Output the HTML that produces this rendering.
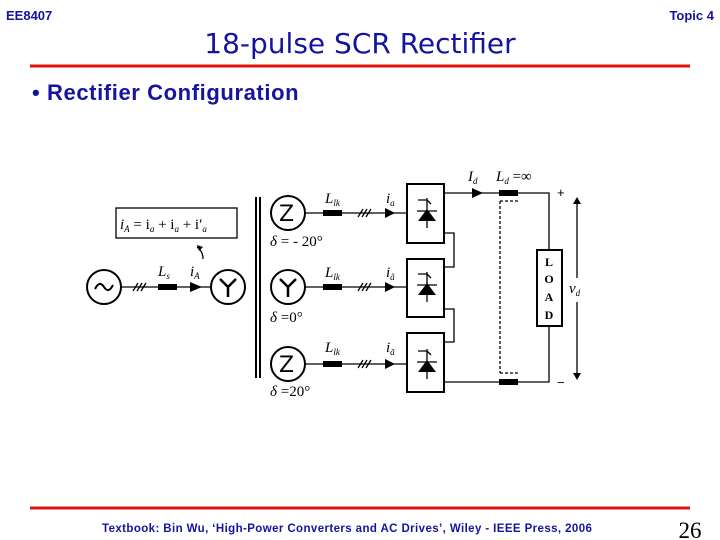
<!DOCTYPE html>
<html><head><meta charset="utf-8"><style>
html,body{margin:0;padding:0;background:#fff;width:720px;height:540px;overflow:hidden}
</style></head><body>
<svg width="720" height="540" viewBox="0 0 720 540" xmlns="http://www.w3.org/2000/svg">
<g font-family="Liberation Sans, sans-serif" fill="#1414a0">
<text x="6" y="20" font-size="13" font-weight="bold">EE8407</text>
<text x="714" y="20" font-size="13" font-weight="bold" text-anchor="end">Topic 4</text>
<text x="360" y="53" font-size="28" font-family="DejaVu Sans, sans-serif" text-anchor="middle">18-pulse SCR Rectifier</text>
<text x="32" y="100" font-size="22" font-weight="bold" letter-spacing="0.6">• Rectifier Configuration</text>
<text x="102" y="532" font-size="11.5" font-weight="bold" letter-spacing="0.4">Textbook: Bin Wu, ‘High-Power Converters and AC Drives’, Wiley - IEEE Press, 2006</text>
</g>
<text x="690" y="538" font-size="23" font-family="Liberation Serif, serif" text-anchor="middle" fill="#000">26</text>
<line x1="30" y1="66" x2="690" y2="66" stroke="#e01010" stroke-width="3"/>
<line x1="30" y1="508" x2="690" y2="508" stroke="#e01010" stroke-width="3"/>

<g stroke="#000" fill="none" stroke-width="1.3">
<circle cx="104" cy="287" r="17" stroke-width="2"/>
<path d="M95 289 q4.5 -9 9 -2 t9 -2" stroke-width="2"/>
<line x1="121" y1="287" x2="211" y2="287"/>
<path d="M133 291 l5 -8 M137 291 l5 -8 M141 291 l5 -8"/>
<circle cx="228" cy="287" r="17" stroke-width="2"/>
<path d="M220 279 l8 8 l8 -8 M228 287 v10" stroke-width="2.5"/>
<rect x="116" y="208" width="121" height="30"/>
<path d="M203 259 q0 -8 -6 -12"/>
<line x1="256" y1="197" x2="256" y2="378" stroke-width="2"/>
<line x1="260" y1="197" x2="260" y2="378" stroke-width="2"/>
<circle cx="288" cy="213" r="17" stroke-width="2"/>
<circle cx="288" cy="287" r="17" stroke-width="2"/>
<circle cx="288" cy="364" r="17" stroke-width="2"/>
<path d="M280 279 l8 8 l8 -8 M288 287 v10" stroke-width="2.5"/>
<line x1="305" y1="213" x2="407" y2="213"/>
<line x1="305" y1="287" x2="407" y2="287"/>
<line x1="305" y1="364" x2="407" y2="364"/>
<path d="M358 217 l5 -8 M362 217 l5 -8 M366 217 l5 -8"/>
<path d="M358 291 l5 -8 M362 291 l5 -8 M366 291 l5 -8"/>
<path d="M358 368 l5 -8 M362 368 l5 -8 M366 368 l5 -8"/>
<rect x="407" y="184" width="37" height="59" stroke-width="2"/>
<rect x="407" y="259" width="37" height="58" stroke-width="2"/>
<rect x="407" y="333" width="37" height="59" stroke-width="2"/>
<path d="M427 198 v30 M417 211 h20 M418 200 h9 l4 4"/>
<path d="M427 272 v30 M417 285 h20 M418 274 h9 l4 4"/>
<path d="M427 349 v30 M417 362 h20 M418 351 h9 l4 4"/>
<path d="M444 233 h10 v34 h-10 M444 309 h10 v33 h-10"/>
<path d="M444 193 H549 V250 M549 326 V382 H444"/>
<rect x="537" y="250" width="25" height="76" stroke-width="2"/>
<path d="M500 201 h18 M500 201 V373 M500 373 h18" stroke-dasharray="3,2"/>
<line x1="577" y1="200" x2="577" y2="278"/>
<line x1="577" y1="302" x2="577" y2="378"/>
</g>
<g fill="#000">
<rect x="158" y="284" width="19" height="6"/>
<polygon points="190,282 202,287 190,292"/>
<polygon points="197,245 203,247 199,251"/>
<rect x="323" y="210" width="19" height="6"/>
<rect x="323" y="284" width="19" height="6"/>
<rect x="323" y="361" width="19" height="6"/>
<polygon points="385,208 395,213 385,218"/>
<polygon points="385,282 395,287 385,292"/>
<polygon points="385,359 395,364 385,369"/>
<polygon points="418,221 436,221 427,209"/>
<polygon points="418,295 436,295 427,283"/>
<polygon points="418,372 436,372 427,360"/>
<polygon points="472,188 483,193 472,198"/>
<rect x="499" y="190" width="19" height="6"/>
<rect x="499" y="379" width="19" height="6"/>
<polygon points="573,204 577,197 581,204"/>
<polygon points="573,373 577,380 581,373"/>
</g>
<g font-family="Liberation Serif, serif" font-style="italic" fill="#000" font-size="15">
<text x="120" y="229">i<tspan font-size="9" dy="3">A</tspan><tspan dy="-3" font-style="normal"> = i</tspan><tspan font-size="9" dy="3">a</tspan><tspan dy="-3" font-style="normal">  + i</tspan><tspan font-size="9" dy="3">a</tspan><tspan dy="-3" font-style="normal">  + i′</tspan><tspan font-size="9" dy="3">a</tspan></text>
<text x="158" y="276">L<tspan font-size="9" dy="3">s</tspan></text>
<text x="190" y="276">i<tspan font-size="9" dy="3">A</tspan></text>
<text x="325" y="203">L<tspan font-size="9" dy="3">lk</tspan></text>
<text x="325" y="277">L<tspan font-size="9" dy="3">lk</tspan></text>
<text x="325" y="352">L<tspan font-size="9" dy="3">lk</tspan></text>
<text x="386" y="203">i<tspan font-size="9" dy="3">a</tspan></text>
<text x="386" y="277">i<tspan font-size="9" dy="3">ã</tspan></text>
<text x="386" y="352">i<tspan font-size="9" dy="3">ā</tspan></text>
<text x="270" y="246">δ<tspan font-style="normal"> = - 20°</tspan></text>
<text x="270" y="322">δ<tspan font-style="normal"> =0°</tspan></text>
<text x="270" y="396">δ<tspan font-style="normal"> =20°</tspan></text>
<text x="468" y="181">I<tspan font-size="9" dy="3">d</tspan></text>
<text x="496" y="181">L<tspan font-size="9" dy="3">d</tspan><tspan dy="-3" font-style="normal"> =∞</tspan></text>
<text x="569" y="293">v<tspan font-size="9" dy="3">d</tspan></text>
</g>
<g font-family="Liberation Serif, serif" fill="#000" font-size="12" font-weight="bold" text-anchor="middle">
<text x="549" y="266">L</text><text x="549" y="283">O</text><text x="549" y="301">A</text><text x="549" y="319">D</text>
</g>
<g font-family="Liberation Sans, sans-serif" fill="#000" font-size="13">
<text x="557" y="197">+</text><text x="557" y="387">−</text>
</g>
<g font-family="DejaVu Sans, sans-serif" fill="#000" font-size="22">
<text x="279" y="221">Z</text><text x="279" y="372">Z</text>
</g>
</svg>
</body></html>
